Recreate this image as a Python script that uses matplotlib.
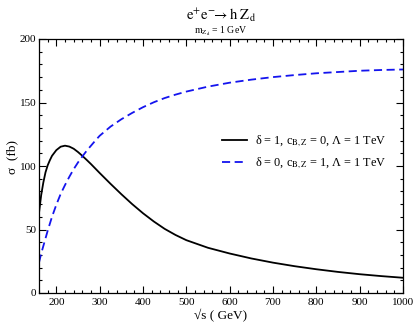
import matplotlib
matplotlib.use("Agg")
import matplotlib.pyplot as plt
from matplotlib.ticker import MultipleLocator

plt.rcParams['font.family'] = ['Liberation Serif', 'DejaVu Serif']
plt.rcParams['mathtext.fontset'] = 'stix'

sqrt_s = [160, 165, 170, 175, 180, 185, 190, 200, 210, 220, 230, 240, 250, 260, 270, 280, 290,
          300, 325, 350, 375, 400, 425, 450, 475, 500, 550, 600, 650, 700, 750, 800, 850,
          900, 950, 1000]
sigma_delta1 = [63, 77, 87, 95, 100.5, 104.5, 108, 112.5, 115.2, 116, 115.3, 113.6, 111, 108, 104.8, 101.5, 98,
                94.5, 86, 77.8, 70, 62.8, 56.3, 50.5, 45.7, 41.6, 35.6, 31.1, 27.2, 23.9, 21.1, 18.7, 16.6,
                14.8, 13.3, 12]
sigma_cBZ1 = [24, 31, 37, 43, 49, 54.5, 60, 69.5, 78, 85, 91.5, 97.5, 102.8, 107.5, 112, 116, 120,
              123.8, 131, 136.8, 141.8, 146.3, 150.2, 153.5, 156.2, 158.6, 162.5, 165.6, 168, 170, 171.6, 173, 174,
              175, 175.6, 176]

label1 = r"δ = 1, c$_{\mathrm{B,Z}}$ = 0, Λ = 1 TeV"
label2 = r"δ = 0, c$_{\mathrm{B,Z}}$ = 1, Λ = 1 TeV"

fig = plt.figure(figsize=(4.15, 3.27), dpi=100)
ax = fig.add_axes([39/415, 1-293/327, (403-39)/415, (293-39)/327])

ax.plot(sqrt_s, sigma_delta1, color='black', lw=1.3, label=label1)
ax.plot(sqrt_s, sigma_cBZ1, color='#1414ee', lw=1.3, ls=(0, (4.5, 2.5)), label=label2)

ax.set_xlim(160, 1000)
ax.set_ylim(0, 200)
ax.xaxis.set_major_locator(MultipleLocator(100))
ax.xaxis.set_minor_locator(MultipleLocator(20))
ax.yaxis.set_major_locator(MultipleLocator(50))
ax.yaxis.set_minor_locator(MultipleLocator(10))
ax.tick_params(which='both', direction='in', top=True, right=True, labelsize=8, width=0.8)
ax.tick_params(which='major', length=5)
ax.tick_params(which='minor', length=2.5)
ax.tick_params(axis='x', pad=3.5)
ax.tick_params(axis='y', pad=2)
for s in ax.spines.values():
    s.set_linewidth(0.9)

ax.legend(loc='center left', bbox_to_anchor=(0.49, 0.555), frameon=False, fontsize=8.8,
          handlelength=2.0, handletextpad=0.7, labelspacing=0.55, borderaxespad=0)

fig.text(0.532, 0.953, r"$\mathrm{e^{+}e^{-}\!\!\rightarrow h\ Z_{d}}$", ha='center', va='center', fontsize=10.5)
fig.text(0.532, 0.905, r"$\mathrm{m_{Z_{d}}}$ = 1 GeV", ha='center', va='center', fontsize=7)
fig.text(0.532, 0.035, r"√s ( GeV)", ha='center', va='center', fontsize=9.5)
fig.text(0.03, 0.52, r"σ  (fb)", ha='center', va='center', rotation=90, fontsize=9.5)

fig.savefig("out.png", dpi=100)
